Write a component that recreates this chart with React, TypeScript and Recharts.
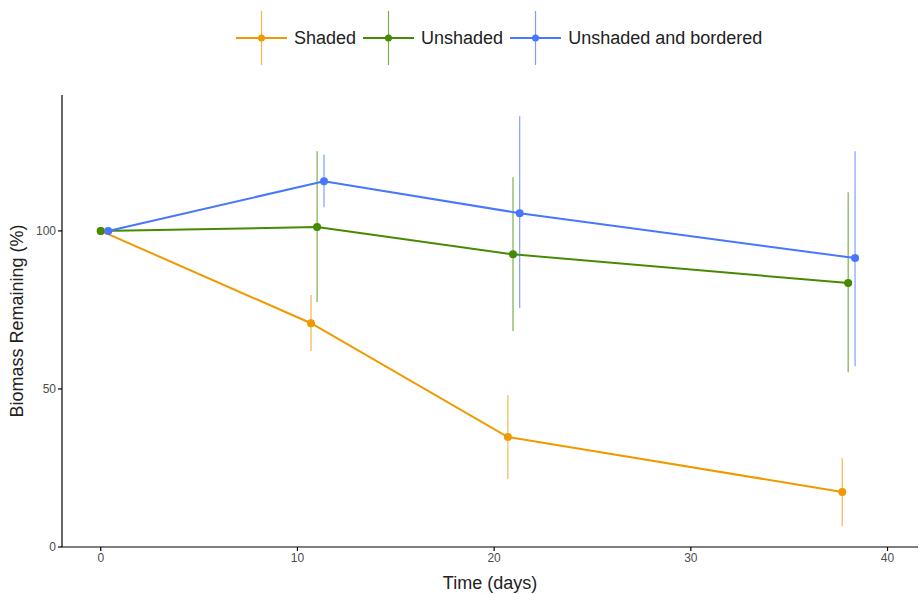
import React from 'react';
import { LineChart, Line, XAxis, YAxis, ErrorBar } from 'recharts';

// days are dodged a little per series, as in the original figure
const shadedDays = [0, 10.69, 20.7, 37.7];
const shadedMean = [100, 70.8, 34.8, 17.4];
const shadedLow = [100, 62.0, 21.5, 6.6];
const shadedHigh = [100, 79.7, 48.1, 28.1];

const unshadedDays = [0, 11.0, 20.96, 38.0];
const unshadedMean = [100, 101.2, 92.6, 83.5];
const unshadedLow = [100, 77.5, 68.3, 55.3];
const unshadedHigh = [100, 125.2, 117.0, 112.2];

const borderedDays = [0.38, 11.35, 21.3, 38.35];
const borderedMean = [100, 115.7, 105.6, 91.4];
const borderedLow = [100, 107.5, 75.6, 57.2];
const borderedHigh = [100, 124.2, 136.3, 125.2];

const xTicks = [0, 10, 20, 30, 40];
const yTicks = [0, 50, 100];

const build = (days: number[], mean: number[], low: number[], high: number[]) =>
  days.map((d, i) => ({
    x: d,
    y: mean[i],
    err: [mean[i] - low[i], high[i] - mean[i]],
  }));

const seriesList = [
  { name: 'Shaded', color: '#EE9A00', data: build(shadedDays, shadedMean, shadedLow, shadedHigh) },
  { name: 'Unshaded', color: '#458B00', data: build(unshadedDays, unshadedMean, unshadedLow, unshadedHigh) },
  { name: 'Unshaded and bordered', color: '#4876FF', data: build(borderedDays, borderedMean, borderedLow, borderedHigh) },
];

const font = '"Liberation Sans", Arial, sans-serif';

const LegendIcon = ({ color }: { color: string }) => (
  <svg width={51} height={54} style={{ display: 'block' }}>
    <line x1={25.5} y1={0} x2={25.5} y2={54} stroke={color} strokeOpacity={0.7} strokeWidth={1.2} />
    <line x1={0} y1={27} x2={51} y2={27} stroke={color} strokeWidth={2} />
    <circle cx={25.5} cy={27} r={3.5} fill={color} />
  </svg>
);

export default function App() {
  return (
    <div style={{ position: 'relative', width: 919, height: 594, background: '#fff', fontFamily: font }}>
      <style>{'body{margin:0}'}</style>
      <div
        style={{
          position: 'absolute',
          top: 11,
          left: 236,
          display: 'flex',
          alignItems: 'center',
        }}
      >
        {seriesList.map((s) => (
          <div key={s.name} style={{ display: 'flex', alignItems: 'center', marginRight: 7 }}>
            <LegendIcon color={s.color} />
            <span style={{ fontSize: 18, color: '#222', marginLeft: 7 }}>{s.name}</span>
          </div>
        ))}
      </div>
      <LineChart width={919} height={594} margin={{ top: 95, right: 1, left: 0, bottom: 0 }}>
        <XAxis
          type="number"
          dataKey="x"
          domain={[-1.97, 41.55]}
          ticks={xTicks}
          allowDataOverflow
          height={47}
          stroke="#000"
          strokeWidth={1.2}
          tickSize={4}
          tick={{ fill: '#4d4d4d', fontSize: 12, fontFamily: font }}
          label={{ value: 'Time (days)', position: 'insideBottom', offset: 5, fill: '#222', fontSize: 18, fontFamily: font }}
        />
        <YAxis
          type="number"
          domain={[0, 143]}
          ticks={yTicks}
          allowDataOverflow
          width={62}
          stroke="#000"
          strokeWidth={1.2}
          tickSize={4}
          tick={{ fill: '#4d4d4d', fontSize: 12, fontFamily: font }}
          label={{ value: 'Biomass Remaining (%)', angle: -90, position: 'insideLeft', offset: 17, style: { textAnchor: 'middle' }, fill: '#222', fontSize: 18, fontFamily: font }}
        />
        {seriesList.map((s) => (
          <Line
            key={s.name}
            data={s.data}
            dataKey="y"
            name={s.name}
            stroke={s.color}
            strokeWidth={2}
            dot={{ r: 4, fill: s.color, stroke: s.color, strokeWidth: 0 }}
            activeDot={false}
            isAnimationActive={false}
          >
            <ErrorBar dataKey="err" direction="y" width={0} stroke={s.color} strokeOpacity={0.7} strokeWidth={1.2} isAnimationActive={false} />
          </Line>
        ))}
      </LineChart>
    </div>
  );
}
